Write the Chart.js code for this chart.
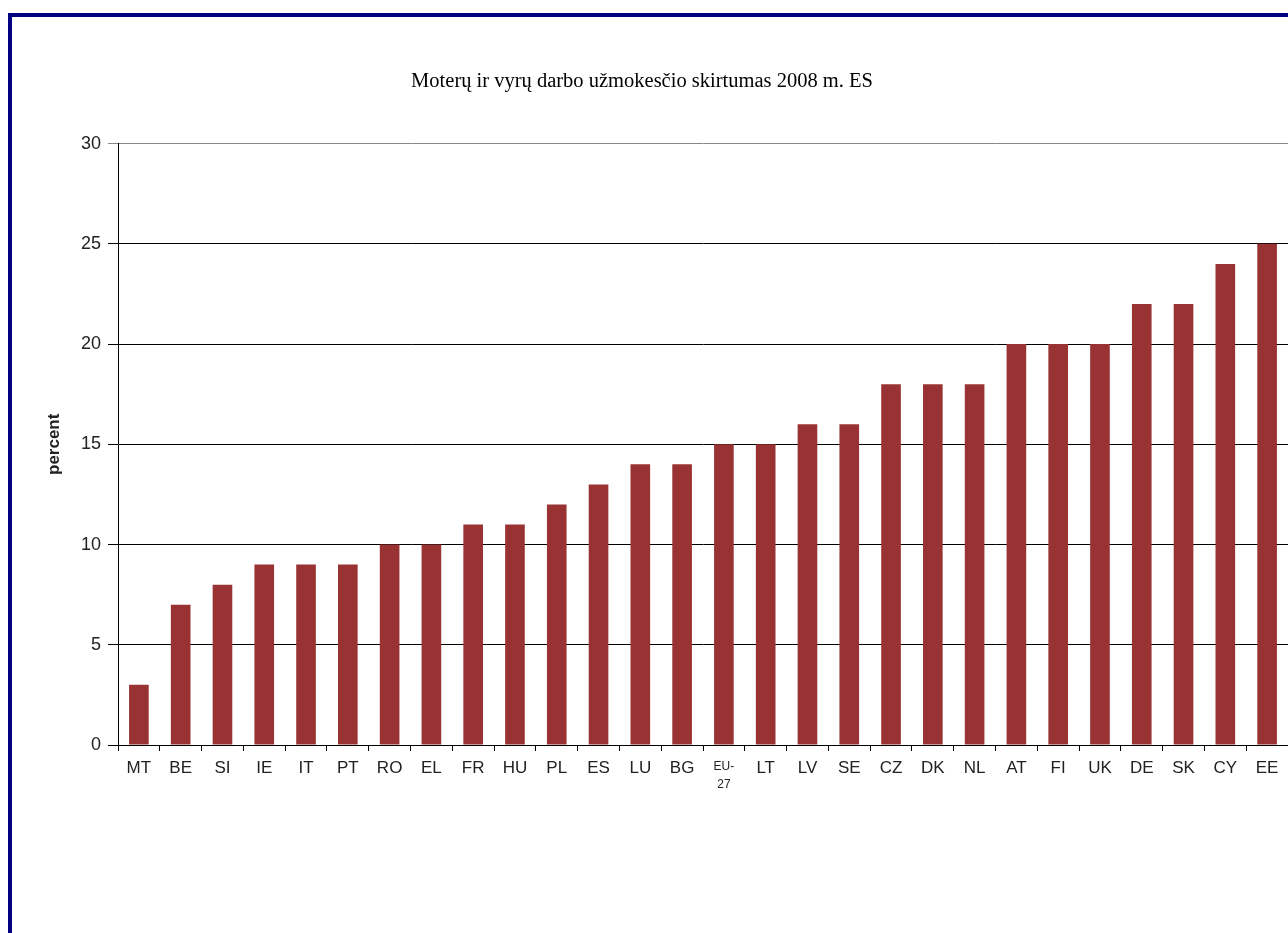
<!DOCTYPE html>
<html>
<head>
<meta charset="utf-8">
<title>Moterų ir vyrų darbo užmokesčio skirtumas 2008 m. ES</title>
<script src="https://cdn.jsdelivr.net/npm/chart.js@4/dist/chart.umd.min.js"></script>
<style>
  html, body { margin: 0; padding: 0; background: #fff; overflow: hidden; }
  #frame {
    position: absolute; left: 8px; top: 13px;
    width: 1400px; height: 1000px;
    border: 4px solid #000080; background: #fff;
  }
  /* canvas is transparent, so it may sit a little under the left border */
  #wrap { position: absolute; left: -16px; top: 0; width: 1352px; height: 916px; }
</style>
</head>
<body>
<div id="frame"><div id="wrap"><canvas id="gap"></canvas></div></div>
<script>
// šalys ir atotrūkis procentais (2008 m.)
const countries = ['MT', 'BE', 'SI', 'IE', 'IT', 'PT', 'RO', 'EL', 'FR', 'HU', 'PL', 'ES', 'LU', 'BG',
  ['EU-', '27'], 'LT', 'LV', 'SE', 'CZ', 'DK', 'NL', 'AT', 'FI', 'UK', 'DE', 'SK', 'CY', 'EE'];
const payGap = [3, 7, 8, 9, 9, 9, 10, 10, 11, 11, 12, 13, 14, 14,
  15, 15, 16, 16, 18, 18, 18, 20, 20, 20, 22, 22, 24, 25];
const yMin = 0, yMax = 30, yStep = 5;

const BAR = '#993333';
const INK = '#222';

new Chart(document.getElementById('gap').getContext('2d'), {
  type: 'bar',
  data: {
    labels: countries,
    datasets: [{
      label: 'percent', data: payGap,
      backgroundColor: BAR, borderWidth: 0,
      categoryPercentage: 1, barPercentage: 0.47
    }]
  },
  options: {
    responsive: true, maintainAspectRatio: false, animation: false,
    layout: { padding: { left: 0, right: 60, top: 0, bottom: 88 } },
    plugins: {
      legend: { display: false },
      tooltip: { enabled: false },
      title: {
        display: true,
        text: 'Moterų ir vyrų darbo užmokesčio skirtumas 2008 m. ES',
        color: '#000',
        font: { family: '"Liberation Serif", "Times New Roman", serif', size: 20.5, weight: 'normal' },
        padding: { top: 52, bottom: 50 }
      }
    },
    scales: {
      x: {
        afterFit: s => { s.height = 100; },
        grid: { drawOnChartArea: false, drawTicks: true, tickLength: 6, color: '#000', offset: true },
        border: { color: '#000' },
        ticks: {
          color: INK, padding: 7, maxRotation: 0, autoSkip: false,
          font: ctx => ctx.index === 14
            ? { family: '"Liberation Sans", Arial, sans-serif', size: 12, lineHeight: 1.5 }
            : { family: '"Liberation Sans", Arial, sans-serif', size: 17 }
        }
      },
      y: {
        min: yMin, max: yMax,
        afterFit: s => { s.width = 122; },
        grid: {
          color: ctx => ctx.tick && ctx.tick.value === yMax ? '#888' : '#000',
          tickLength: 10, drawTicks: true
        },
        border: { color: '#000' },
        ticks: {
          stepSize: yStep, color: INK, padding: 7,
          font: { family: '"Liberation Sans", Arial, sans-serif', size: 18 }
        },
        title: {
          display: true, text: 'percent', color: INK,
          font: { family: '"Liberation Sans", Arial, sans-serif', size: 17, weight: 'bold' },
          padding: { top: 48, bottom: 0 }
        }
      }
    }
  }
});
</script>
</body>
</html>
